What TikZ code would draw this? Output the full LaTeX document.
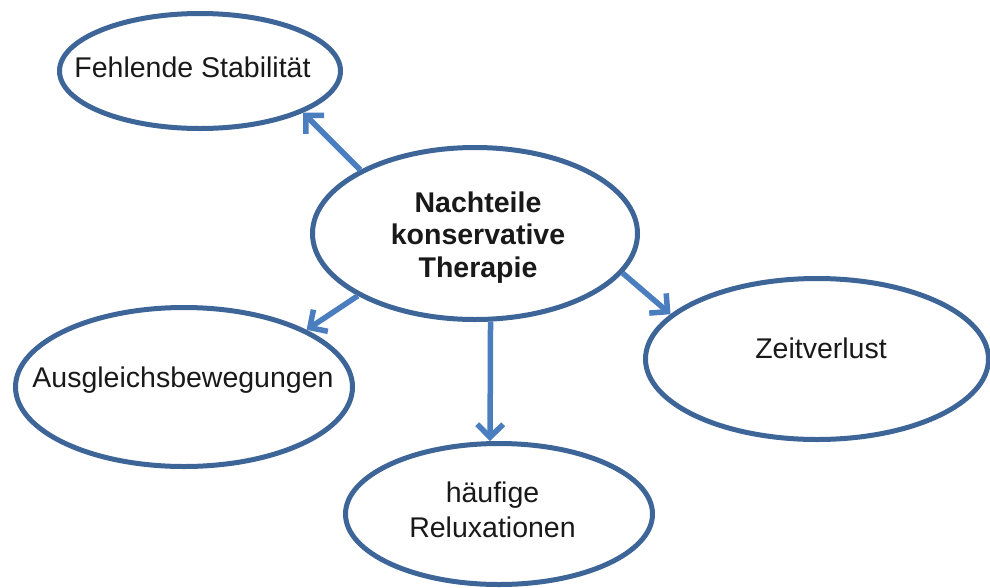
\documentclass[tikz,border=0pt]{standalone}
\usepackage{fontspec}
\setmainfont{Liberation Sans}
\usetikzlibrary{shapes.geometric,arrows.meta}
\definecolor{rimblue}{HTML}{3D6598}
\definecolor{arrowblue}{HTML}{4A7EBE}
\tikzset{
  bubble/.style={ellipse, draw=rimblue, line width=5pt, fill=white, inner sep=0pt},
  label text/.style={font=\fontsize{28.5}{32.5}\selectfont, text=black!90, inner sep=0pt, anchor=base, align=center},
  link/.style={draw=arrowblue, line width=5.5pt, -{Straight Barb[length=13pt,width=26pt]}},
}
\begin{document}
\begin{tikzpicture}[x=1pt,y=-1pt]
\useasboundingbox (0,0) rectangle (990,587);

% ellipses
\node[bubble, minimum width=281pt, minimum height=115pt] (stab)  at (200,71)    {};
\node[bubble, minimum width=325pt, minimum height=172pt] (main)  at (475,233.5) {};
\node[bubble, minimum width=343pt, minimum height=161pt] (zeit)  at (817,359)   {};
\node[bubble, minimum width=337pt, minimum height=159pt] (ausg)  at (184,387)   {};
\node[bubble, minimum width=307pt, minimum height=141pt] (haeuf) at (499,514)   {};

% texts (multi-line nodes sit on the baseline of their last line)
\node[label text] (stabtext) at (192.5,77.5) {Fehlende Stabilität};
\node[label text, font=\fontsize{28.5}{32.5}\selectfont\bfseries] (maintext) at (478,277) {Nachteile\\konservative\\Therapie};
\node[label text] (zeittext) at (821,358) {Zeitverlust};
\node[label text] (ausgtext) at (183,387) {Ausgleichsbewegungen};
\node[label text, font=\fontsize{28.5}{35}\selectfont] (haeuftext) at (492.5,537) {häufige\\Reluxationen};

% connectors
\draw[link] (main.151.7) -- (stab.-22.4);
\draw[link] (main.208.3) -- (ausg.25.8);
\draw[link] (main.-15.3) -- (zeit.163.9);
\draw[link] (main.-80)   -- (haeuf.97);
\end{tikzpicture}
\end{document}
